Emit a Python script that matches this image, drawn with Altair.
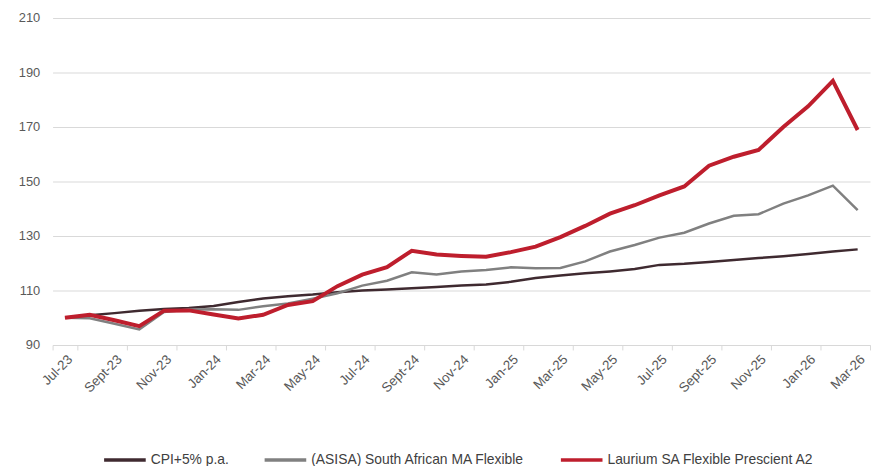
import altair as alt
import pandas as pd

months = ["Jul-23", "Aug-23", "Sept-23", "Oct-23", "Nov-23", "Dec-23",
          "Jan-24", "Feb-24", "Mar-24", "Apr-24", "May-24", "Jun-24",
          "Jul-24", "Aug-24", "Sept-24", "Oct-24", "Nov-24", "Dec-24",
          "Jan-25", "Feb-25", "Mar-25", "Apr-25", "May-25", "Jun-25",
          "Jul-25", "Aug-25", "Sept-25", "Oct-25", "Nov-25", "Dec-25",
          "Jan-26", "Feb-26", "Mar-26"]
label_months = months[::2]

series_names = ["CPI+5% p.a.", "(ASISA) South African MA Flexible",
                "Laurium SA Flexible Prescient A2"]
colors = ["#3f2a30", "#808080", "#be1e2d"]
widths = [2.5, 2.5, 4]

cpi = [100, 100.9, 101.7, 102.6, 103.2, 103.6, 104.3, 105.8, 107.1, 107.9,
       108.5, 109.4, 110.0, 110.4, 110.8, 111.3, 111.8, 112.2, 113.2, 114.6,
       115.5, 116.3, 117.0, 117.9, 119.4, 119.8, 120.5, 121.2, 121.9, 122.6,
       123.4, 124.3, 125.1]
asisa = [100, 99.8, 97.8, 95.7, 102.1, 103.0, 103.1, 102.9, 104.2, 105.2,
         107.0, 109.0, 111.8, 113.6, 116.7, 115.9, 117.0, 117.5, 118.5, 118.2,
         118.3, 120.7, 124.3, 126.7, 129.4, 131.2, 134.6, 137.4, 138.0, 141.9,
         144.9, 148.5, 139.5]
laurium = [100, 101.1, 99.1, 96.9, 102.6, 102.7, 101.2, 99.7, 101.1, 104.7,
           106.1, 111.6, 115.8, 118.6, 124.6, 123.2, 122.7, 122.4, 124.1, 126.1,
           129.6, 133.7, 138.2, 141.3, 144.9, 148.2, 155.8, 159.1, 161.6, 170.0,
           177.6, 186.9, 168.9]

rows = []
for name, vals in zip(series_names, [cpi, asisa, laurium]):
    for m, v in zip(months, vals):
        rows.append({"month": m, "value": v, "series": name})
df = pd.DataFrame(rows)

FONT = "Liberation Sans"
GRID = "#d9d9d9"
TXT = "#595959"

base = alt.Chart(df).encode(
    x=alt.X("month:O", sort=months, bandPosition=0.5, title=None,
            scale=alt.Scale(type="band", domain=months, paddingInner=0, paddingOuter=0),
            axis=alt.Axis(values=label_months, tickBand="extent", labelAngle=-45,
                          labelFontSize=13.5, labelColor=TXT, labelFont=FONT,
                          domainColor=GRID, tickColor=GRID, tickSize=5,
                          labelPadding=2, grid=False)),
    y=alt.Y("value:Q", title=None,
            scale=alt.Scale(domain=[90, 210], nice=False, zero=False),
            axis=alt.Axis(values=[90, 110, 130, 150, 170, 190, 210], domain=False,
                          ticks=False, labelPadding=13, labelFontSize=13,
                          labelColor=TXT, labelFont=FONT, gridColor=GRID)),
    color=alt.Color("series:N", title=None,
                    scale=alt.Scale(domain=series_names, range=colors),
                    legend=alt.Legend(orient="none", direction="horizontal",
                                      legendX=50, legendY=423,
                                      symbolType="stroke", symbolSize=1764,
                                      symbolStrokeWidth=3.5, labelFontSize=14,
                                      labelFont=FONT, labelColor="#404040",
                                      labelLimit=0, gridAlign="none",
                                      labelOffset=3, columnPadding=29)),
)

layers = [base.transform_filter(alt.datum.series == s).mark_line(strokeWidth=w)
          for s, w in zip(series_names, widths)]

chart = alt.layer(*layers).properties(
    width=825, height=330,
    autosize=alt.AutoSizeParams(type="none"),
    padding={"left": 45, "top": 8, "right": 3, "bottom": 120},
).configure_view(stroke=None)

chart.save("out.html", embed_options={"renderer": "svg", "actions": False})
